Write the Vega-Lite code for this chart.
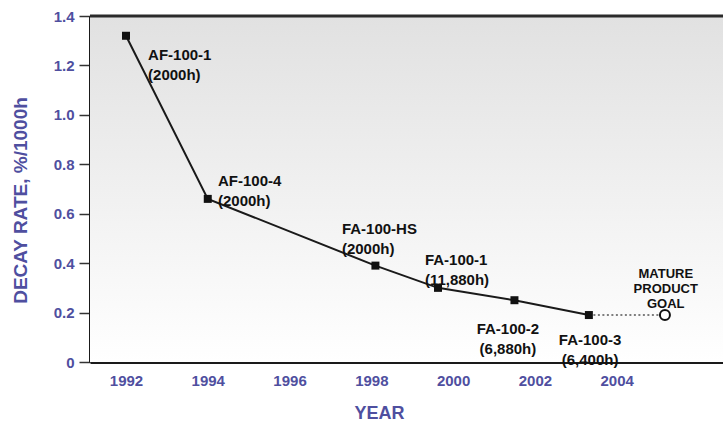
{
  "$schema": "https://vega.github.io/schema/vega-lite/v6.json",
  "width": 633,
  "height": 346,
  "autosize": {"type": "none"},
  "padding": {"left": 90, "top": 16, "right": 0, "bottom": 64},
  "background": "white",
  "config": {"view": {"stroke": null}, "font": "Liberation Sans"},
  "datasets": {
    "main": [
      {"year": 1992, "rate": 1.32},
      {"year": 1994, "rate": 0.66},
      {"year": 1998.1, "rate": 0.39},
      {"year": 1999.63, "rate": 0.30},
      {"year": 2001.5, "rate": 0.25},
      {"year": 2003.32, "rate": 0.19}
    ],
    "goalLine": [
      {"year": 2003.32, "rate": 0.19},
      {"year": 2005.18, "rate": 0.19}
    ],
    "goal": [
      {"year": 2005.18, "rate": 0.19}
    ],
    "labelsLeft": [
      {"year": 1992.54, "rate": 1.243, "label": ["AF-100-1", "(2000h)"]},
      {"year": 1994.25, "rate": 0.733, "label": ["AF-100-4", "(2000h)"]},
      {"year": 1997.28, "rate": 0.538, "label": ["FA-100-HS", "(2000h)"]},
      {"year": 1999.31, "rate": 0.413, "label": ["FA-100-1", "(11,880h)"]}
    ],
    "labelsCenter": [
      {"year": 2001.34, "rate": 0.134, "label": ["FA-100-2", "(6,880h)"]},
      {"year": 2003.35, "rate": 0.089, "label": ["FA-100-3", "(6,400h)"]}
    ],
    "goalLabel": [
      {"year": 2005.2, "rate": 0.356, "label": ["MATURE", "PRODUCT", "GOAL"]}
    ]
  },
  "layer": [
    {
      "data": {"values": [{}]},
      "mark": {
        "type": "rect",
        "color": {
          "gradient": "linear",
          "x1": 0, "y1": 0, "x2": 0, "y2": 1,
          "stops": [
            {"offset": 0, "color": "#e1e1e1"},
            {"offset": 1, "color": "#ffffff"}
          ]
        }
      },
      "encoding": {
        "x": {
          "datum": 1991.12,
          "type": "quantitative",
          "scale": {"domain": [1991.12, 2006.6], "nice": false, "zero": false},
          "axis": {
            "title": "YEAR",
            "values": [1992, 1994, 1996, 1998, 2000, 2002, 2004],
            "format": "d",
            "ticks": false,
            "tickSize": 0,
            "grid": false,
            "labelPadding": 11,
            "labelFlush": false,
            "labelOverlap": false,
            "labelFont": "Liberation Sans",
            "labelFontSize": 15,
            "labelFontWeight": "bold",
            "labelColor": "#4f4f9f",
            "domainColor": "#1a1a1a",
            "domainWidth": 3,
            "titleFont": "Liberation Sans",
            "titleFontSize": 18,
            "titleFontWeight": "bold",
            "titleColor": "#4f4f9f",
            "titleX": 289,
            "titleY": 51,
            "titleBaseline": "middle",
            "titleAlign": "center"
          }
        },
        "x2": {"datum": 2006.6},
        "y": {
          "datum": 0,
          "type": "quantitative",
          "scale": {"domain": [0, 1.4], "nice": false, "zero": true},
          "axis": {
            "title": "DECAY RATE, %/1000h",
            "values": [0, 0.1, 0.2, 0.3, 0.4, 0.5, 0.6, 0.7, 0.8, 0.9, 1.0, 1.1, 1.2, 1.3, 1.4],
            "labelExpr": "abs(datum.value*5 - round(datum.value*5)) < 0.001 ? (datum.value == 0 ? '0' : format(datum.value, '.1f')) : ''",
            "tickSize": {"condition": {"test": "abs(datum.value*5 - round(datum.value*5)) < 0.001", "value": 11}, "value": 6},
            "tickWidth": 1.5,
            "tickColor": "#333333",
            "grid": false,
            "labelPadding": 5,
            "labelFlush": false,
            "labelOverlap": false,
            "labelFont": "Liberation Sans",
            "labelFontSize": 15,
            "labelFontWeight": "bold",
            "labelColor": "#4f4f9f",
            "domainColor": "#1a1a1a",
            "domainWidth": 3,
            "titleFont": "Liberation Sans",
            "titleFontSize": 19,
            "titleFontWeight": "bold",
            "titleColor": "#4f4f9f",
            "titleX": -70,
            "titleY": 184,
            "titleBaseline": "middle",
            "titleAlign": "center"
          }
        },
        "y2": {"datum": 1.4}
      }
    },
    {
      "data": {"values": [{}]},
      "mark": {"type": "rule", "color": "#2a2a2a", "strokeWidth": 3},
      "encoding": {"y": {"datum": 1.4, "type": "quantitative"}}
    },
    {
      "data": {"name": "goalLine"},
      "mark": {"type": "line", "color": "#555555", "strokeWidth": 1.5, "strokeDash": [2, 2.5]},
      "encoding": {
        "x": {"field": "year", "type": "quantitative"},
        "y": {"field": "rate", "type": "quantitative"}
      }
    },
    {
      "data": {"name": "main"},
      "mark": {"type": "line", "color": "#1a1a1a", "strokeWidth": 2},
      "encoding": {
        "x": {"field": "year", "type": "quantitative"},
        "y": {"field": "rate", "type": "quantitative"}
      }
    },
    {
      "data": {"name": "main"},
      "mark": {"type": "square", "filled": true, "color": "#111111", "size": 64, "opacity": 1},
      "encoding": {
        "x": {"field": "year", "type": "quantitative"},
        "y": {"field": "rate", "type": "quantitative"}
      }
    },
    {
      "data": {"name": "goal"},
      "mark": {"type": "point", "shape": "circle", "filled": true, "fill": "white", "stroke": "#111111", "strokeWidth": 2, "size": 100, "opacity": 1},
      "encoding": {
        "x": {"field": "year", "type": "quantitative"},
        "y": {"field": "rate", "type": "quantitative"}
      }
    },
    {
      "data": {"name": "labelsLeft"},
      "mark": {"type": "text", "align": "left", "baseline": "middle", "font": "Liberation Sans", "fontSize": 15, "fontWeight": "bold", "lineHeight": 20, "color": "#111111"},
      "encoding": {
        "x": {"field": "year", "type": "quantitative"},
        "y": {"field": "rate", "type": "quantitative"},
        "text": {"field": "label", "type": "nominal"}
      }
    },
    {
      "data": {"name": "labelsCenter"},
      "mark": {"type": "text", "align": "center", "baseline": "middle", "font": "Liberation Sans", "fontSize": 15, "fontWeight": "bold", "lineHeight": 20, "color": "#111111"},
      "encoding": {
        "x": {"field": "year", "type": "quantitative"},
        "y": {"field": "rate", "type": "quantitative"},
        "text": {"field": "label", "type": "nominal"}
      }
    },
    {
      "data": {"name": "goalLabel"},
      "mark": {"type": "text", "align": "center", "baseline": "middle", "font": "Liberation Sans", "fontSize": 13, "fontWeight": "bold", "lineHeight": 15, "color": "#111111"},
      "encoding": {
        "x": {"field": "year", "type": "quantitative"},
        "y": {"field": "rate", "type": "quantitative"},
        "text": {"field": "label", "type": "nominal"}
      }
    }
  ]
}
